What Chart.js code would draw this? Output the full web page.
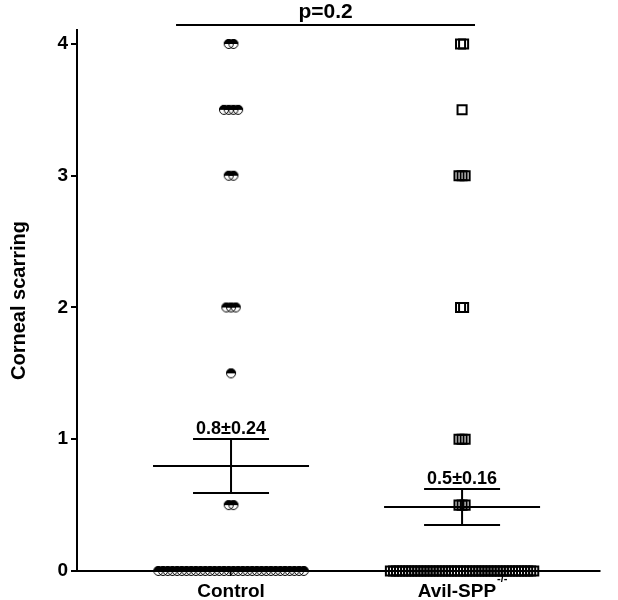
<!DOCTYPE html>
<html>
<head>
<meta charset="utf-8">
<script src="https://cdn.jsdelivr.net/npm/chart.js@4"></script>
<style>
  html, body { margin: 0; padding: 0; background: #fff; }
  #wrap { width: 618px; height: 600px; }
</style>
</head>
<body>
<div id="wrap"><canvas id="chart" width="618" height="600"></canvas></div>
<script>
// groups and data
const groups = ['Control', 'Avil-SPP'];
const groupSup = ['', '-/-'];
const yTicks = [0, 1, 2, 3, 4];

const controlScores = [0, 0.5, 1.5, 2, 3, 3.5, 4];
const controlCounts = [32, 2, 1, 3, 2, 4, 2];
const avilScores = [0, 0.5, 1, 2, 3, 3.5, 4];
const avilCounts = [48, 3, 3, 2, 3, 1, 2];

const means = [0.797, 0.486];
const sems = [0.205, 0.137];
const statLabels = ['0.8\u00b10.24', '0.5\u00b10.16'];
const pLabel = 'p=0.2';

const FONT = '"Liberation Sans", Arial, sans-serif';

// spread equal scores side by side around the group centre
function spread(scores, counts, center, step) {
    let pts = [];
    scores.forEach((s, i) => {
        let n = counts[i];
        for (let k = 0; k < n; k++)
            pts.push({x: center + (k - (n - 1) / 2) * step, y: s});
    });
    return pts;
}

function halfCircle(d) {
    let c = document.createElement('canvas');
    c.width = c.height = d + 2;
    let g = c.getContext('2d');
    let m = (d + 2) / 2, r = d / 2;
    g.beginPath();
    g.arc(m, m, r, Math.PI, 0);
    g.closePath();
    g.fillStyle = '#000';
    g.fill();
    g.beginPath();
    g.arc(m, m, r - 0.5, 0, Math.PI * 2);
    g.lineWidth = 1;
    g.strokeStyle = '#000';
    g.stroke();
    return c;
}

const overlay = {
    id: 'overlay',
    afterDatasetsDraw(chart) {
        let ctx = chart.ctx;
        let xs = chart.scales.x, ys = chart.scales.y;
        ctx.save();
        ctx.strokeStyle = '#000';
        ctx.fillStyle = '#000';
        ctx.lineWidth = 2;

        means.forEach((m, i) => {
            let cx = xs.getPixelForValue(i + 1);
            let ym = ys.getPixelForValue(m);
            let yt = ys.getPixelForValue(m + sems[i]);
            let yb = ys.getPixelForValue(m - sems[i]);
            ctx.beginPath();
            ctx.moveTo(cx - 78, ym); ctx.lineTo(cx + 78, ym);
            ctx.moveTo(cx, yt); ctx.lineTo(cx, yb);
            ctx.moveTo(cx - 38, yt); ctx.lineTo(cx + 38, yt);
            ctx.moveTo(cx - 38, yb); ctx.lineTo(cx + 38, yb);
            ctx.stroke();

            ctx.font = 'bold 18px ' + FONT;
            ctx.textAlign = 'center';
            ctx.textBaseline = 'alphabetic';
            ctx.fillText(statLabels[i], cx, yt - 5);
        });

        // significance bracket
        let bx1 = xs.getPixelForValue(0.762), bx2 = xs.getPixelForValue(2.056);
        ctx.beginPath();
        ctx.moveTo(bx1, 25); ctx.lineTo(bx2, 25);
        ctx.stroke();
        ctx.font = 'bold 21px ' + FONT;
        ctx.textAlign = 'center';
        ctx.textBaseline = 'alphabetic';
        ctx.fillText(pLabel, (bx1 + bx2) / 2, 18);

        // group labels with superscript
        groups.forEach((g, i) => {
            let cx = xs.getPixelForValue(i + 1);
            ctx.font = 'bold 19px ' + FONT;
            let w1 = ctx.measureText(g).width;
            ctx.font = 'bold 11px ' + FONT;
            let w2 = groupSup[i] ? ctx.measureText(groupSup[i]).width : 0;
            let x0 = cx - (w1 + w2) / 2;
            ctx.textAlign = 'left';
            ctx.font = 'bold 19px ' + FONT;
            ctx.fillText(g, x0, 597);
            if (groupSup[i]) {
                ctx.font = 'bold 11px ' + FONT;
                ctx.fillText(groupSup[i], x0 + w1 + 1, 582);
            }
        });
        ctx.restore();
    }
};

let ctx = document.getElementById('chart').getContext('2d');

let data = {
    datasets: [{
        label: groups[0],
        data: spread(controlScores, controlCounts, 1, 0.0203),
        pointStyle: halfCircle(10),
        pointRadius: 5,
        showLine: false,
        clip: false
    },
    {
        label: groups[1],
        data: spread(avilScores, avilCounts, 2, 0.0132),
        pointStyle: 'rect',
        pointRadius: 6.4,
        pointBorderWidth: 2,
        pointBorderColor: '#000',
        pointBackgroundColor: 'rgba(0,0,0,0)',
        showLine: false,
        clip: false
    }]
};

let options = {
    responsive: false,
    animation: false,
    events: [],
    layout: {
        padding: {left: 1, right: 18, top: 30, bottom: 0}
    },
    plugins: {
        legend: {display: false},
        tooltip: {enabled: false}
    },
    scales: {
        x: {
            type: 'linear',
            min: 0.3333,
            max: 2.597,
            afterBuildTicks: (s) => { s.ticks = [{value: 1}, {value: 2}]; },
            afterFit: (s) => { s.height = 29; },
            grid: {
                drawOnChartArea: false,
                drawTicks: true,
                tickLength: 5,
                color: '#000',
                lineWidth: 1.5
            },
            border: {display: true, color: '#000', width: 2},
            ticks: {display: false}
        },
        y: {
            min: 0,
            max: 4.106,
            afterBuildTicks: (s) => { s.ticks = yTicks.map(v => ({value: v})); },
            afterFit: (s) => { s.width = 76; },
            grid: {
                drawOnChartArea: false,
                drawTicks: true,
                tickLength: 6,
                color: '#000',
                lineWidth: 2
            },
            border: {display: true, color: '#000', width: 2},
            ticks: {
                color: '#000',
                padding: 3,
                font: {family: FONT, size: 19, weight: 'bold'}
            },
            title: {
                display: true,
                text: 'Corneal scarring',
                color: '#000',
                padding: {top: 6, bottom: 0},
                font: {family: FONT, size: 20, weight: 'bold'}
            }
        }
    }
};

new Chart(ctx, {type: 'scatter', data: data, options: options, plugins: [overlay]});
</script>
</body>
</html>
